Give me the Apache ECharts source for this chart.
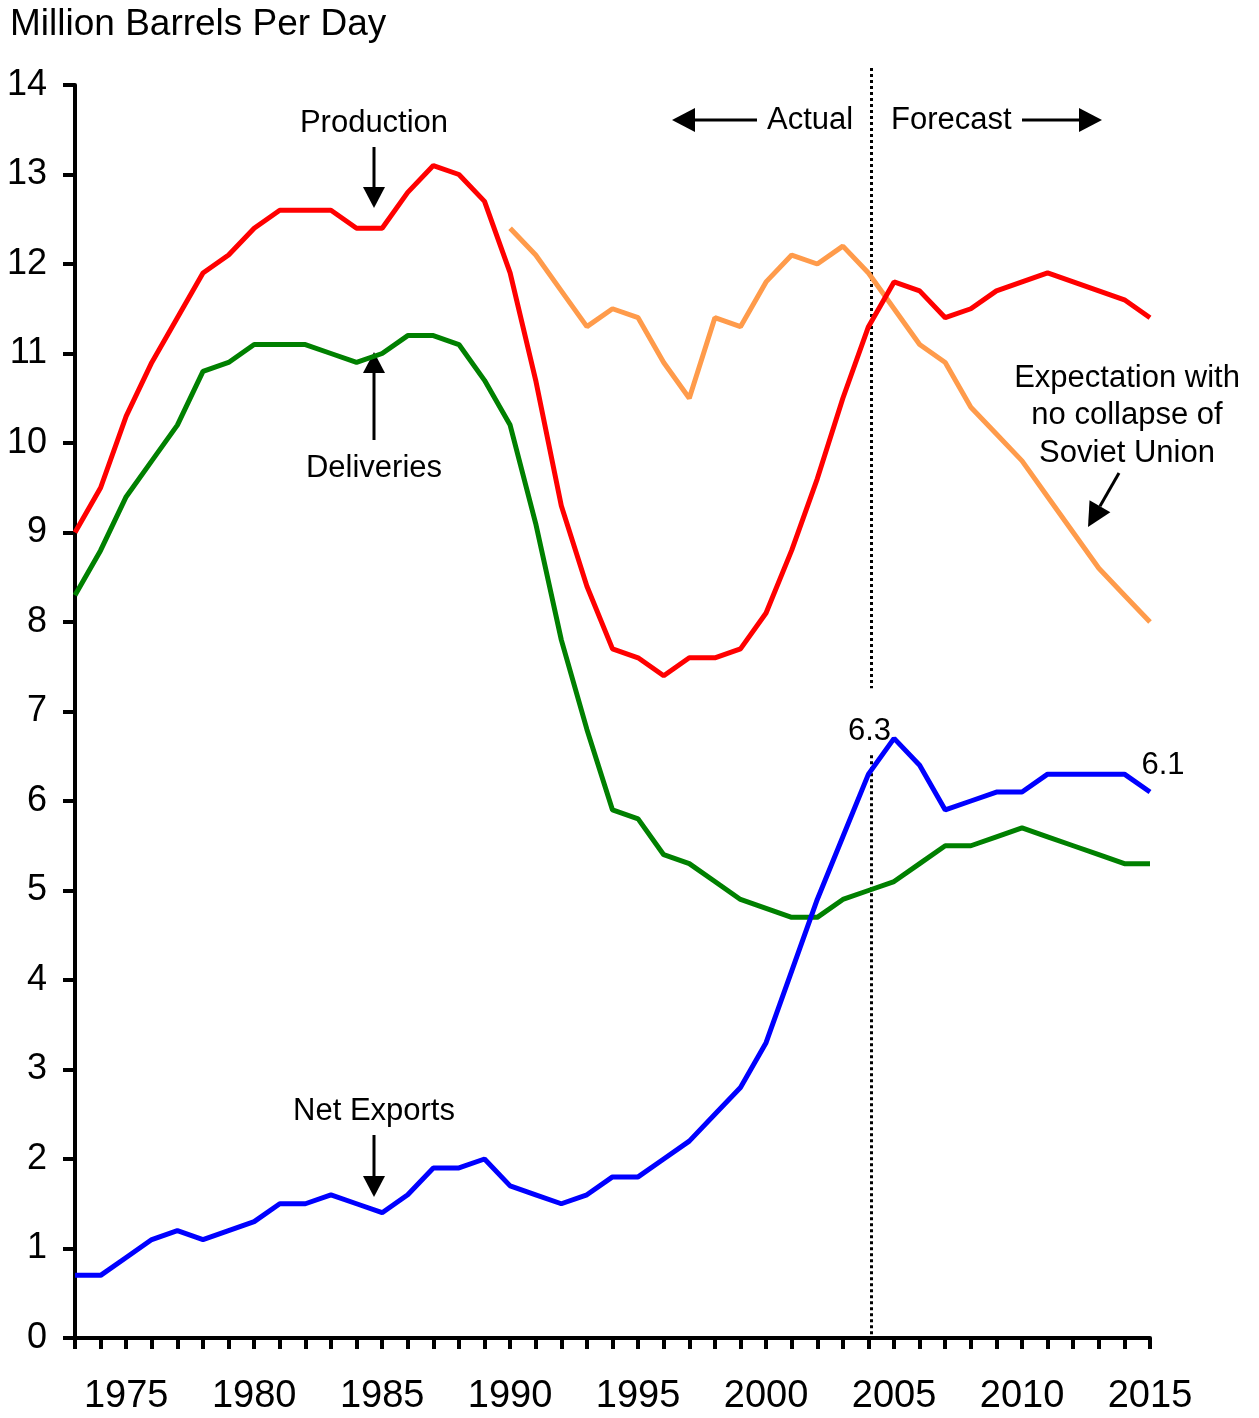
<!DOCTYPE html>
<html>
<head>
<meta charset="utf-8">
<script src="https://cdn.jsdelivr.net/npm/echarts@6/dist/echarts.min.js"></script>
<style>
html,body{margin:0;padding:0;background:#fff;}
#chart{width:1259px;height:1418px;}
</style>
</head>
<body>
<div id="chart"></div>
<script>
const years = [];
for (let y = 1973; y <= 2015; y++) years.push(y);

const production = [9.0,9.5,10.3,10.9,11.4,11.9,12.1,12.4,12.6,12.6,12.6,12.4,12.4,12.8,13.1,13.0,12.7,11.9,10.7,9.3,8.4,7.7,7.6,7.4,7.6,7.6,7.7,8.1,8.8,9.6,10.5,11.3,11.8,11.7,11.4,11.5,11.7,11.8,11.9,11.8,11.7,11.6,11.4];
const deliveries = [8.3,8.8,9.4,9.8,10.2,10.8,10.9,11.1,11.1,11.1,11.0,10.9,11.0,11.2,11.2,11.1,10.7,10.2,9.1,7.8,6.8,5.9,5.8,5.4,5.3,5.1,4.9,4.8,4.7,4.7,4.9,5.0,5.1,5.3,5.5,5.5,5.6,5.7,5.6,5.5,5.4,5.3,5.3];
const netExports = [0.7,0.7,0.9,1.1,1.2,1.1,1.2,1.3,1.5,1.5,1.6,1.5,1.4,1.6,1.9,1.9,2.0,1.7,1.6,1.5,1.6,1.8,1.8,2.0,2.2,2.5,2.8,3.3,4.1,4.9,5.6,6.3,6.7,6.4,5.9,6.0,6.1,6.1,6.3,6.3,6.3,6.3,6.1];
const expYears = [];
for (let y = 1990; y <= 2015; y++) expYears.push(y);
const expectation = [12.4,12.1,11.7,11.3,11.5,11.4,10.9,10.5,11.4,11.3,11.8,12.1,12.0,12.2,11.9,11.5,11.1,10.9,10.4,10.1,9.8,9.4,9.0,8.6,8.3,8.0];

const yTicks = [0,1,2,3,4,5,6,7,8,9,10,11,12,13,14];
const forecastStart = 2004.1;
const FONT = '"Liberation Sans", Arial, sans-serif';

const chart = echarts.init(document.getElementById('chart'), null, {renderer: 'canvas'});

function pairs(xs, vs) { return xs.map((x, i) => [x, vs[i]]); }

function arrow(x1, y1, x2, y2, hl, hw) {
  const dx = x2 - x1, dy = y2 - y1, L = Math.sqrt(dx*dx + dy*dy);
  const ux = dx / L, uy = dy / L;
  const bx = x2 - ux * hl, by = y2 - uy * hl;
  const px = -uy * hw / 2, py = ux * hw / 2;
  return [
    {type: 'line', shape: {x1: x1, y1: y1, x2: bx, y2: by}, style: {stroke: '#000', lineWidth: 3}},
    {type: 'polygon', shape: {points: [[x2, y2], [bx + px, by + py], [bx - px, by - py]]}, style: {fill: '#000'}}
  ];
}

function txt(t, x, y, align) {
  return {type: 'text', x: x, y: y, style: {text: t, font: '31px ' + FONT, fill: '#000', textAlign: align || 'center', textVerticalAlign: 'middle'}};
}

const graphics = [
  {type: 'text', x: 10, y: 25, style: {text: 'Million Barrels Per Day', font: '37px ' + FONT, fill: '#000', textAlign: 'left', textVerticalAlign: 'middle'}},
  txt('Production', 374, 123),
  ...arrow(374, 147, 374, 208, 21, 22),
  txt('Deliveries', 374, 468),
  ...arrow(374, 440, 374, 352, 21, 22),
  txt('Net Exports', 374, 1111),
  ...arrow(374, 1135, 374, 1197, 21, 22),
  ...arrow(757, 120, 672, 120, 23, 24),
  txt('Actual', 767, 120, 'left'),
  txt('Forecast', 891, 120, 'left'),
  ...arrow(1022, 120, 1102, 120, 23, 24),
  txt('Expectation with', 1127, 378),
  txt('no collapse of', 1127, 415),
  txt('Soviet Union', 1127, 453),
  ...arrow(1119, 473, 1088, 527, 24, 24)
];

const valueLabel = {
  show: true, formatter: '{b}', color: '#000', fontSize: 31, fontFamily: FONT
};

const option = {
  animation: false,
  backgroundColor: '#fff',
  grid: {left: 75, right: 109, top: 85, bottom: 80, containLabel: false},
  xAxis: {
    type: 'value', min: 1973, max: 2015, interval: 1,
    axisLine: {show: true, onZero: false, lineStyle: {color: '#000', width: 4}},
    axisTick: {show: true, inside: false, length: 11, lineStyle: {color: '#000', width: 4}},
    axisLabel: {
      show: true, margin: 40, color: '#000', fontSize: 38, fontFamily: FONT,
      formatter: v => (v % 5 === 0 ? String(v) : '')
    },
    splitLine: {show: false}
  },
  yAxis: {
    type: 'value', min: 0, max: 14, interval: 1,
    axisLine: {show: true, lineStyle: {color: '#000', width: 4}},
    axisTick: {show: true, length: 12, lineStyle: {color: '#000', width: 4}},
    axisLabel: {
      margin: 28, color: '#000', fontSize: 36, fontFamily: FONT,
      formatter: v => (yTicks.indexOf(v) >= 0 ? String(v) : '')
    },
    splitLine: {show: false}
  },
  series: [
    {
      name: 'Expectation', type: 'line', data: pairs(expYears, expectation),
      showSymbol: false, symbol: 'none', lineStyle: {color: '#FF9B4B', width: 5}, z: 2
    },
    {
      name: 'Production', type: 'line', data: pairs(years, production),
      showSymbol: false, symbol: 'none', lineStyle: {color: '#FF0000', width: 5}, z: 3
    },
    {
      name: 'Deliveries', type: 'line', data: pairs(years, deliveries),
      showSymbol: false, symbol: 'none', lineStyle: {color: '#008000', width: 5}, z: 3
    },
    {
      name: 'Net Exports', type: 'line', data: pairs(years, netExports),
      showSymbol: false, symbol: 'none', itemStyle: {color: '#0000FF'},
      lineStyle: {color: '#0000FF', width: 5}, z: 4,
      markPoint: {
        silent: true, animation: false,
        symbol: 'rect', symbolSize: [1, 1],
        itemStyle: {color: 'rgba(0,0,0,0)'},
        data: [
          {name: '6.3', coord: [2004, netExports[years.indexOf(2004)]],
           label: Object.assign({}, valueLabel, {position: 'top', distance: 27, offset: [1, 0]})},
          {name: '6.1', coord: [2015, netExports[years.indexOf(2015)]],
           label: Object.assign({}, valueLabel, {position: 'top', distance: 11, offset: [13, 0]})}
        ]
      }
    }
  ],
  graphic: graphics
};

chart.setOption(option);

// forecast divider (dotted), broken around the "6.3" label
const xPix = Math.round(chart.convertToPixel({xAxisIndex: 0}, forecastStart)) + 0.5;
const yTop = chart.convertToPixel({yAxisIndex: 0}, 14) - 17;
const yGapTop = chart.convertToPixel({yAxisIndex: 0}, 7.26);
const yGapBot = chart.convertToPixel({yAxisIndex: 0}, 6.51);
const yBot = chart.convertToPixel({yAxisIndex: 0}, 0);
const dotStyle = {stroke: '#000', lineWidth: 3, lineDash: [3, 3]};
chart.setOption({
  graphic: graphics.concat([
    {type: 'line', z: 1, shape: {x1: xPix, y1: yTop, x2: xPix, y2: yGapTop}, style: dotStyle},
    {type: 'line', z: 1, shape: {x1: xPix, y1: yGapBot, x2: xPix, y2: yBot}, style: dotStyle}
  ])
}, {replaceMerge: ['graphic']});
</script>
</body>
</html>
